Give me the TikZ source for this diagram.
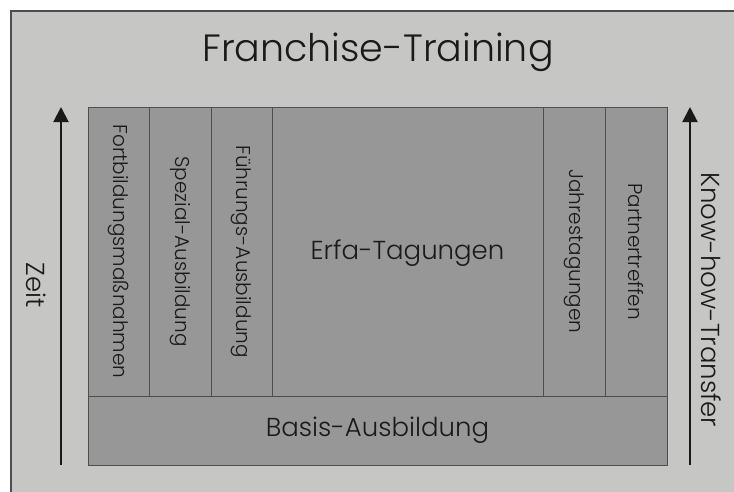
\documentclass[tikz,border=0pt]{standalone}
\usepackage{fontspec}
\setmainfont{Poppins}[UprightFont=* Light]
\usetikzlibrary{arrows.meta}

\definecolor{bggray}{HTML}{C6C6C4}
\definecolor{boxgray}{HTML}{979797}
\definecolor{linegray}{HTML}{4E4E4E}
\definecolor{inkgray}{HTML}{1A1A1A}

\begin{document}
\begin{tikzpicture}[x=1pt, y=-1pt,
    cell/.style={draw=linegray, fill=boxgray, line width=0.9pt, inner sep=0pt,
                 outer sep=0pt, anchor=north west},
    vlabel/.style={rotate=-90, text=inkgray, font=\fontsize{20}{20}\selectfont},
    hlabel/.style={text=inkgray, font=\fontsize{26}{26}\selectfont},
    timearrow/.style={-{Triangle[length=15pt, width=15pt]}, line width=2pt, draw=inkgray}]
  \useasboundingbox (0,0) rectangle (734,491);
  \clip (0,0) rectangle (734,491);
  \fill[white] (0,0) rectangle (734,491);

  % frame
  \draw[fill=bggray, draw=linegray, line width=1.3pt] (11,11) rectangle (760,520);

  % title
  \node[text=inkgray, font=\fontsize{38}{38}\selectfont] (title) at (378,52) {Franchise-Training};

  % upper row of columns
  \node[cell, minimum width=61pt, minimum height=289pt] (fort) at (88,107) {};
  \node[cell, minimum width=62pt, minimum height=289pt] (spez) at (149,107) {};
  \node[cell, minimum width=61pt, minimum height=289pt] (fuehr) at (211,107) {};
  \node[cell, minimum width=271pt, minimum height=289pt] (erfa) at (272,107) {};
  \node[cell, minimum width=62pt, minimum height=289pt] (jahr) at (543,107) {};
  \node[cell, minimum width=62pt, minimum height=289pt] (partner) at (605,107) {};

  % basis row
  \node[cell, minimum width=579pt, minimum height=69pt] (basis) at (88,396) {};

  % labels
  \node[vlabel] (fortlabel) at (fort.center) {Fortbildungsmaßnahmen};
  \node[vlabel] (spezlabel) at (spez.center) {Spezial-Ausbildung};
  \node[vlabel] (fuehrlabel) at (fuehr.center) {Führungs-Ausbildung};
  \node[hlabel] (erfalabel) at ([yshift=-2pt]erfa.center) {Erfa-Tagungen};
  \node[vlabel] (jahrlabel) at (jahr.center) {Jahrestagungen};
  \node[vlabel] (partnerlabel) at (partner.center) {Partnertreffen};
  \node[hlabel] (basislabel) at (basis.center) {Basis-Ausbildung};

  % arrows at the sides
  \coordinate (zeitbot) at (61,465);
  \coordinate (zeittop) at (61,107);
  \coordinate (knowbot) at (690,465);
  \coordinate (knowtop) at (690,107);
  \draw[timearrow] (zeitbot) -- (zeittop);
  \draw[timearrow] (knowbot) -- (knowtop);
  \node[hlabel, rotate=-90] (zeit) at (36,285) {Zeit};
  \node[hlabel, rotate=-90] (know) at (711,300) {Know-how-Transfer};
\end{tikzpicture}
\end{document}
